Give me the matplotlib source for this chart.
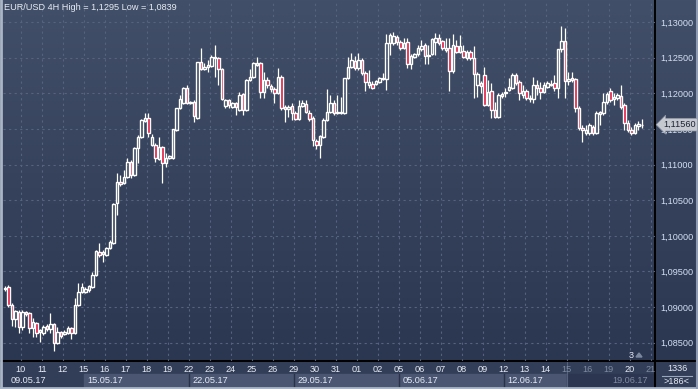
import numpy as np
import matplotlib
matplotlib.use("Agg")
import matplotlib.pyplot as plt
import matplotlib.transforms as mtransforms
from matplotlib.patches import Rectangle, Polygon

plt.rcParams['font.family'] = ['Liberation Sans', 'DejaVu Sans']

# EUR/USD 4H candles, 09.05.17 .. 20.06.17 (one row per trading day)
opens = [
    1.0926, 1.0928, 1.0903, 1.0883, 1.0893,
    1.0872, 1.0893, 1.0892, 1.0871, 1.0878, 1.0865,
    1.0864, 1.0874, 1.0869, 1.0876, 1.0850, 1.0865,
    1.0862, 1.0864, 1.0871, 1.0864, 1.0903, 1.0921,
    1.0921, 1.0924, 1.0928, 1.0945, 1.0977, 1.0975,
    1.0973, 1.0983, 1.0990, 1.1046, 1.1076, 1.1074,
    1.1083, 1.1104, 1.1085, 1.1123, 1.1139, 1.1161,
    1.1165, 1.1128, 1.1128, 1.1108, 1.1125, 1.1102,
    1.1109, 1.1109, 1.1149, 1.1180, 1.1186, 1.1208,
    1.1186, 1.1188, 1.1165, 1.1244, 1.1234, 1.1237,
    1.1238, 1.1250, 1.1250, 1.1234, 1.1182, 1.1191,
    1.1181, 1.1186, 1.1177, 1.1199, 1.1177, 1.1219,
    1.1223, 1.1240, 1.1243, 1.1202, 1.1219, 1.1210,
    1.1206, 1.1200, 1.1223, 1.1181, 1.1178, 1.1182,
    1.1172, 1.1164, 1.1182, 1.1185, 1.1172, 1.1165,
    1.1133, 1.1128, 1.1139, 1.1163, 1.1174, 1.1186,
    1.1172, 1.1172, 1.1172, 1.1222, 1.1237, 1.1245,
    1.1236, 1.1247, 1.1229, 1.1212, 1.1213, 1.1213,
    1.1216, 1.1220, 1.1220, 1.1271, 1.1271, 1.1279,
    1.1272, 1.1264, 1.1272, 1.1241, 1.1251, 1.1255,
    1.1262, 1.1268, 1.1252, 1.1255, 1.1272, 1.1278,
    1.1274, 1.1261, 1.1264, 1.1231, 1.1266, 1.1258,
    1.1259, 1.1250, 1.1258, 1.1250, 1.1212, 1.1215,
    1.1226, 1.1184, 1.1203, 1.1177, 1.1167, 1.1196,
    1.1200, 1.1205, 1.1208, 1.1226, 1.1216, 1.1198,
    1.1203, 1.1192, 1.1192, 1.1212, 1.1208, 1.1202,
    1.1209, 1.1212, 1.1215, 1.1208, 1.1262, 1.1274,
    1.1217, 1.1222, 1.1220, 1.1180, 1.1151, 1.1144,
    1.1144, 1.1153, 1.1144, 1.1171, 1.1172, 1.1188,
    1.1203, 1.1192, 1.1194, 1.1196, 1.1184, 1.1158,
    1.1149, 1.1144, 1.1154, 1.1155,
]
highs = [
    1.0930, 1.0931, 1.0906, 1.0896, 1.0896,
    1.0896, 1.0895, 1.0893, 1.0885, 1.0879, 1.0869,
    1.0875, 1.0876, 1.0892, 1.0878, 1.0872, 1.0867,
    1.0868, 1.0874, 1.0872, 1.0913, 1.0934, 1.0934,
    1.0928, 1.0931, 1.0949, 1.0980, 1.0990, 1.0980,
    1.0984, 1.0994, 1.1046, 1.1088, 1.1085, 1.1092,
    1.1109, 1.1106, 1.1125, 1.1142, 1.1164, 1.1172,
    1.1172, 1.1143, 1.1130, 1.1139, 1.1126, 1.1116,
    1.1114, 1.1150, 1.1180, 1.1198, 1.1209, 1.1212,
    1.1189, 1.1191, 1.1244, 1.1264, 1.1243, 1.1247,
    1.1254, 1.1268, 1.1251, 1.1236, 1.1192, 1.1192,
    1.1188, 1.1188, 1.1202, 1.1200, 1.1220, 1.1234,
    1.1244, 1.1251, 1.1244, 1.1230, 1.1223, 1.1213,
    1.1209, 1.1236, 1.1226, 1.1184, 1.1184, 1.1186,
    1.1175, 1.1191, 1.1191, 1.1191, 1.1177, 1.1168,
    1.1136, 1.1142, 1.1165, 1.1206, 1.1198, 1.1191,
    1.1198, 1.1195, 1.1222, 1.1251, 1.1257, 1.1252,
    1.1257, 1.1250, 1.1231, 1.1233, 1.1217, 1.1219,
    1.1223, 1.1229, 1.1283, 1.1285, 1.1286, 1.1282,
    1.1275, 1.1278, 1.1278, 1.1255, 1.1257, 1.1268,
    1.1275, 1.1271, 1.1268, 1.1278, 1.1285, 1.1283,
    1.1275, 1.1278, 1.1278, 1.1283, 1.1275, 1.1282,
    1.1268, 1.1261, 1.1261, 1.1266, 1.1230, 1.1217,
    1.1237, 1.1219, 1.1215, 1.1188, 1.1200, 1.1202,
    1.1208, 1.1222, 1.1229, 1.1229, 1.1219, 1.1212,
    1.1206, 1.1198, 1.1223, 1.1219, 1.1216, 1.1216,
    1.1217, 1.1219, 1.1226, 1.1262, 1.1295, 1.1292,
    1.1230, 1.1230, 1.1222, 1.1182, 1.1156, 1.1156,
    1.1158, 1.1156, 1.1175, 1.1175, 1.1200, 1.1202,
    1.1208, 1.1200, 1.1200, 1.1212, 1.1186, 1.1163,
    1.1153, 1.1158, 1.1161, 1.1164,
]
lows = [
    1.0923, 1.0900, 1.0874, 1.0872, 1.0864,
    1.0868, 1.0888, 1.0864, 1.0858, 1.0858, 1.0851,
    1.0861, 1.0867, 1.0864, 1.0839, 1.0848, 1.0857,
    1.0861, 1.0862, 1.0855, 1.0862, 1.0902, 1.0920,
    1.0920, 1.0921, 1.0927, 1.0944, 1.0970, 1.0963,
    1.0972, 1.0982, 1.0989, 1.1029, 1.1070, 1.1073,
    1.1081, 1.1081, 1.1084, 1.1102, 1.1137, 1.1160,
    1.1139, 1.1126, 1.1104, 1.1106, 1.1074, 1.1097,
    1.1108, 1.1108, 1.1147, 1.1178, 1.1185, 1.1185,
    1.1185, 1.1160, 1.1164, 1.1233, 1.1233, 1.1230,
    1.1237, 1.1223, 1.1212, 1.1191, 1.1180, 1.1180,
    1.1180, 1.1170, 1.1175, 1.1170, 1.1175, 1.1217,
    1.1222, 1.1238, 1.1194, 1.1194, 1.1208, 1.1202,
    1.1186, 1.1199, 1.1177, 1.1160, 1.1167, 1.1163,
    1.1163, 1.1163, 1.1181, 1.1172, 1.1161, 1.1126,
    1.1122, 1.1109, 1.1137, 1.1161, 1.1172, 1.1170,
    1.1171, 1.1171, 1.1171, 1.1220, 1.1236, 1.1233,
    1.1233, 1.1226, 1.1203, 1.1208, 1.1206, 1.1212,
    1.1215, 1.1219, 1.1205, 1.1254, 1.1268, 1.1268,
    1.1261, 1.1262, 1.1236, 1.1234, 1.1250, 1.1252,
    1.1259, 1.1241, 1.1241, 1.1254, 1.1254, 1.1268,
    1.1261, 1.1258, 1.1203, 1.1229, 1.1257, 1.1257,
    1.1250, 1.1247, 1.1247, 1.1194, 1.1195, 1.1200,
    1.1182, 1.1182, 1.1165, 1.1165, 1.1165, 1.1194,
    1.1195, 1.1203, 1.1206, 1.1212, 1.1191, 1.1194,
    1.1191, 1.1188, 1.1186, 1.1198, 1.1192, 1.1200,
    1.1208, 1.1210, 1.1203, 1.1194, 1.1258, 1.1194,
    1.1212, 1.1216, 1.1174, 1.1149, 1.1132, 1.1142,
    1.1142, 1.1142, 1.1143, 1.1156, 1.1170, 1.1185,
    1.1188, 1.1184, 1.1191, 1.1178, 1.1149, 1.1146,
    1.1142, 1.1143, 1.1149, 1.1151,
]
closes = [
    1.0927, 1.0903, 1.0883, 1.0895, 1.0872,
    1.0893, 1.0890, 1.0871, 1.0879, 1.0864, 1.0868,
    1.0872, 1.0869, 1.0876, 1.0850, 1.0865, 1.0860,
    1.0865, 1.0871, 1.0864, 1.0903, 1.0921, 1.0928,
    1.0926, 1.0930, 1.0945, 1.0979, 1.0973, 1.0977,
    1.0983, 1.0991, 1.1045, 1.1076, 1.1073, 1.1083,
    1.1104, 1.1085, 1.1123, 1.1139, 1.1163, 1.1165,
    1.1144, 1.1139, 1.1109, 1.1125, 1.1102, 1.1109,
    1.1112, 1.1150, 1.1180, 1.1192, 1.1208, 1.1186,
    1.1188, 1.1168, 1.1244, 1.1234, 1.1237, 1.1240,
    1.1251, 1.1251, 1.1234, 1.1192, 1.1191, 1.1184,
    1.1186, 1.1181, 1.1198, 1.1177, 1.1219, 1.1223,
    1.1243, 1.1243, 1.1202, 1.1219, 1.1212, 1.1206,
    1.1200, 1.1223, 1.1180, 1.1178, 1.1181, 1.1172,
    1.1164, 1.1182, 1.1186, 1.1174, 1.1164, 1.1135,
    1.1128, 1.1140, 1.1163, 1.1174, 1.1186, 1.1172,
    1.1174, 1.1174, 1.1222, 1.1237, 1.1247, 1.1236,
    1.1247, 1.1229, 1.1216, 1.1216, 1.1208, 1.1217,
    1.1222, 1.1222, 1.1271, 1.1282, 1.1280, 1.1272,
    1.1264, 1.1271, 1.1241, 1.1252, 1.1255, 1.1264,
    1.1266, 1.1252, 1.1254, 1.1276, 1.1278, 1.1271,
    1.1264, 1.1264, 1.1231, 1.1268, 1.1258, 1.1266,
    1.1251, 1.1258, 1.1250, 1.1227, 1.1227, 1.1210,
    1.1184, 1.1202, 1.1177, 1.1167, 1.1198, 1.1199,
    1.1202, 1.1209, 1.1226, 1.1215, 1.1200, 1.1203,
    1.1194, 1.1194, 1.1212, 1.1208, 1.1202, 1.1212,
    1.1215, 1.1213, 1.1208, 1.1262, 1.1274, 1.1217,
    1.1220, 1.1219, 1.1180, 1.1151, 1.1149, 1.1149,
    1.1156, 1.1144, 1.1172, 1.1174, 1.1188, 1.1199,
    1.1191, 1.1195, 1.1198, 1.1181, 1.1158, 1.1149,
    1.1144, 1.1156, 1.1157, 1.1156,
]

day_labels = ["10", "11", "12", "15", "16", "17", "18", "19", "22", "23", "24",
              "25", "26", "29", "30", "31", "01", "02", "05", "06", "07", "08",
              "09", "12", "13", "14", "15", "16", "19", "20", "21"]
dim_days = [26, 27, 28, 30]          # greyed labels at the right end
week_labels = ["09.05.17", "15.05.17", "22.05.17", "29.05.17",
               "05.06.17", "12.06.17", "19.06.17"]
week_first_day = [-1, 3, 8, 13, 18, 23, 28]
price_ticks = [1.085, 1.090, 1.095, 1.100, 1.105, 1.110, 1.115, 1.120, 1.125, 1.130]
title = "EUR/USD 4H High = 1,1295 Low = 1,0839"
last_price = 1.1156
bars_total = 1336
bars_shown = 186

o = np.array(opens); h = np.array(highs); l = np.array(lows); c = np.array(closes)
assert len(o) == len(h) == len(l) == len(c)
n = len(o)
idx = np.arange(n)

W, H = 698, 389
fig = plt.figure(figsize=(W / 100, H / 100), dpi=100)

# background / panels, in pixel coordinates
bg = fig.add_axes([0, 0, 1, 1], zorder=-1)
bg.set_xlim(0, W)
bg.set_ylim(H, 0)
bg.axis("off")
top_col = np.array([66, 79, 104]) / 255
bot_col = np.array([43, 54, 81]) / 255
t = np.linspace(0, 1, 256)[:, None]
grad = (top_col[None, :] * (1 - t) + bot_col[None, :] * t)[:, None, :]
bg.imshow(grad, extent=[0, W, 361, 0], aspect="auto", interpolation="bilinear")
bg.add_patch(Rectangle((0, 361), W, H - 361, color="#323d57"))

x_px = lambda x: 3 + (x + 0.557) * 3.5
# week boxes
light_start = x_px(4.5 + 6 * 3)
light_end = x_px(4.5 + 6 * 26)
bg.add_patch(Rectangle((light_start, 374), light_end - light_start, 14, color="#4a5672"))
bg.add_patch(Rectangle((light_end, 374), 655 - light_end, 14, color="#2c3650"))
for j in week_first_day[2:6]:
    xx = x_px(4.5 + 6 * j)
    bg.plot([xx, xx], [374, 388], color="#2a3247", lw=1)
bg.plot([light_end, light_end], [362, 388], color="#56627c", lw=0.8)

# frame lines
bg.plot([0, W], [361, 361], color="black", lw=1.4)
bg.plot([655, 655], [0, H], color="black", lw=1.4)
bg.plot([1, 1], [0, H], color="#aab5c6", lw=2)
bg.plot([0, W], [388, 388], color="#aab5c6", lw=2)
bg.plot([697, 697], [0, H], color="#8f9bb0", lw=1.5)

# bars counter bottom right
bg.plot([662, 692], [375.5, 375.5], color="#9aa6ba", lw=0.8)
bg.text(677, 368.5, str(bars_total), color="#e6ecf5", fontsize=6.6, ha="center", va="center")
bg.text(677, 382, ">" + str(bars_shown) + "<", color="#e6ecf5", fontsize=6.6, ha="center", va="center")

# marker "3" near the bottom right of the plot
bg.text(631, 355, "3", color="#e6ecf5", fontsize=6.6, ha="center", va="center")
bg.add_patch(Polygon([[636, 357], [642, 357], [639, 353]], color="#7c889e"))

# main price axes
ax = fig.add_axes([3 / W, (H - 361) / H, 652 / W, 359 / H])
ax.set_facecolor("none")
for s in ax.spines.values():
    s.set_visible(False)
ax.set_xlim(-0.557, -0.557 + 652 / 3.5)
ax.set_ylim(1.13309 - 0.0001403 * 361, 1.13309 - 0.0001403 * 2)

day_pos = [4.5 + 6 * j for j in range(len(day_labels))]
ax.set_xticks(day_pos)
ax.set_xticklabels(day_labels)
ax.set_yticks(price_ticks)
ax.set_yticklabels([f"{v:.5f}".replace(".", ",") for v in price_ticks])
ax.yaxis.tick_right()
ax.tick_params(axis="x", length=0, pad=3.2, labelsize=6.6, labelcolor="#e6ecf5")
ax.tick_params(axis="y", length=0, pad=3.5, labelsize=6.6, labelcolor="#d2dff2")
for j, lab in enumerate(ax.get_xticklabels()):
    if j in dim_days:
        lab.set_color("#7f8ba2")
ax.grid(True, color="#56637f", lw=0.8, ls=(0, (2, 3)))
ax.set_axisbelow(True)

# candles
red = "#e0143c"
top = np.maximum(o, c)
bot = np.minimum(o, c)
ax.vlines(idx, top, h, color="white", lw=0.9, zorder=3)
ax.vlines(idx, l, bot, color="white", lw=0.9, zorder=3)
bull = c >= o
body = np.maximum(top - bot, 0.00012)
ax.bar(idx[bull], body[bull], bottom=bot[bull], width=0.78, facecolor="none",
       edgecolor="white", linewidth=1.0, zorder=4)
ax.bar(idx[~bull], body[~bull], bottom=bot[~bull], width=0.78, facecolor=red,
       edgecolor="white", linewidth=1.0, zorder=4)

# title
ax.text(1 / 652, 1 - 6 / 359, title, transform=ax.transAxes, color="#e6ecf5",
        fontsize=6.6, ha="left", va="center")

# week labels under day labels
trans = mtransforms.blended_transform_factory(ax.transData, ax.transAxes)
for lab, j in zip(week_labels, week_first_day):
    xx = max(4.5 + 6 * j, -0.557 + 1) + 1.1
    col = "#7f8ba2" if j >= 26 else "#e6ecf5"
    ax.text(xx, -(380.5 - 361) / 359, lab, transform=trans, color=col,
            fontsize=6.6, ha="left", va="center", clip_on=False)

# last price tag
ptrans = mtransforms.blended_transform_factory(ax.transAxes, ax.transData)
ax.text(1 + 8 / 652, last_price, f"{last_price:.5f}".replace(".", ","), transform=ptrans,
        color="#1b2233", fontsize=6.6, ha="left", va="center", zorder=10, clip_on=False,
        bbox=dict(boxstyle="larrow,pad=0.2", fc="#c6cad0", ec="#8d96a6", lw=0.5))

fig.savefig("out.png", dpi=100)
